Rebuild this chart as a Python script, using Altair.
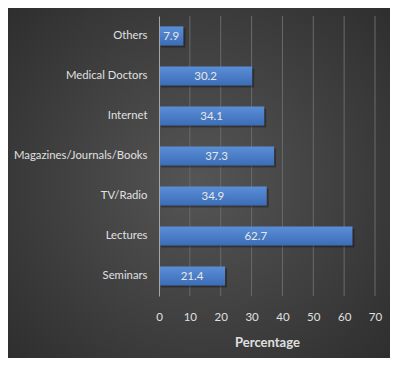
import altair as alt
import pandas as pd

categories = ["Others", "Medical Doctors", "Internet", "Magazines/Journals/Books",
              "TV/Radio", "Lectures", "Seminars"]
values = [7.9, 30.2, 34.1, 37.3, 34.9, 62.7, 21.4]
x_ticks = [0, 10, 20, 30, 40, 50, 60, 70]

df = pd.DataFrame({"category": categories, "value": values})
grid_df = pd.DataFrame({"value": x_ticks[1:]})

W, H = 216, 280
PL, PT, PR, PB = 151, 8, 15, 62
FONT = "Lato"

y_axis = alt.Axis(labelColor="#e0e0e0", labelFontSize=11.3, labelFont=FONT,
                  labelPadding=12, ticks=False, domain=True,
                  domainColor="#a6a6a6", domainWidth=1, grid=False, zindex=2)
y_enc = alt.Y("category:N", sort=categories, title=None,
              scale=alt.Scale(paddingInner=0.52, paddingOuter=0.26), axis=y_axis)
x_scale = alt.Scale(domain=[0, 70], nice=False)
x_axis = alt.Axis(values=x_ticks, tickCount=8, labelColor="#e0e0e0", labelFontSize=11.5,
                  labelFont=FONT, labelPadding=15, ticks=False, domain=False,
                  labelOverlap=False, labelFlush=False,
                  grid=False, zindex=2,
                  titleColor="#e0e0e0", titleFontSize=13, titleFont=FONT,
                  titleFontWeight="bold", titlePadding=14)
x_enc = alt.X("value:Q", title="Percentage", scale=x_scale, axis=x_axis)

bg = alt.Chart(pd.DataFrame({"d": [0]})).mark_rect(
    fill=alt.Gradient(gradient="radial",
                      stops=[alt.GradientStop(color="#555555", offset=0),
                             alt.GradientStop(color="#2a2a2a", offset=1)],
                      x1=0.5, y1=0.5, r1=0, x2=0.5, y2=0.5, r2=0.75),
    clip=False
).encode(x=alt.value(-PL), x2=alt.value(W + PR), y=alt.value(-PT), y2=alt.value(H + PB))

grid = alt.Chart(grid_df).mark_rule(color="#6a6a6a", strokeWidth=1).encode(
    x=x_enc, y=alt.value(0), y2=alt.value(H))

shadow = alt.Chart(df).mark_bar(color="#000000", opacity=0.3, xOffset=2, yOffset=2
                                ).encode(y=y_enc, x=x_enc)

bars = alt.Chart(df).mark_bar(
    color=alt.Gradient(gradient="linear",
                       stops=[alt.GradientStop(color="#5a8fd8", offset=0),
                              alt.GradientStop(color="#3c6db6", offset=1)],
                       x1=0, y1=0, x2=0, y2=1)
).encode(y=y_enc, x=x_enc)

labels = alt.Chart(df).transform_calculate(mid="datum.value / 2").mark_text(
    color="#e8e8e8", fontSize=11.5, font=FONT, align="center", baseline="middle", dy=1
).encode(y=y_enc, x=alt.X("mid:Q", title="Percentage", scale=x_scale, axis=x_axis),
         text=alt.Text("value:Q", format=".1f"))

chart = alt.layer(bg, grid, shadow, bars, labels).properties(
    width=W, height=H,
    autosize=alt.AutoSizeParams(type="none"),
    padding={"left": PL, "top": PT, "right": PR, "bottom": PB},
    background="#2a2a2a"
).configure_view(stroke=None)

chart.save("out.html", embed_options={"renderer": "svg", "actions": False})
